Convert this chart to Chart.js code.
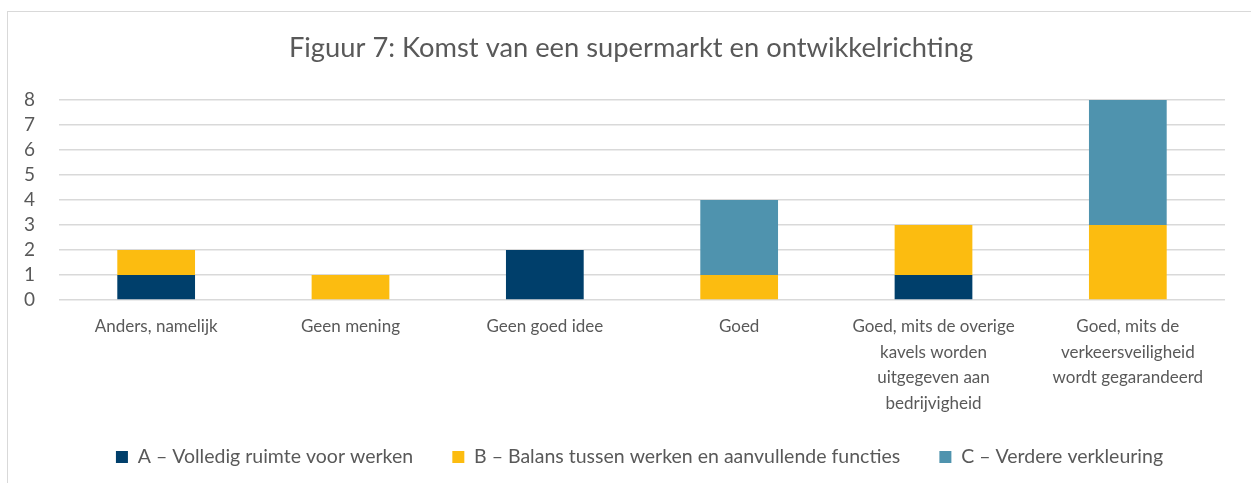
<!DOCTYPE html>
<html>
<head>
<meta charset="utf-8">
<script src="https://cdn.jsdelivr.net/npm/chart.js@4/dist/chart.umd.min.js"></script>
<style>
html,body{margin:0;padding:0;background:#fff;}
#wrap{position:relative;width:1251px;height:483px;overflow:hidden;}
#frame{position:absolute;left:7px;top:11px;width:1300px;height:600px;border:1.5px solid #D9D9D9;box-sizing:border-box;}
canvas{position:absolute;left:0;top:0;}
</style>
</head>
<body>
<div id="wrap"><div id="frame"></div><canvas id="c" width="1251" height="483"></canvas></div>
<script>
const categories = [
  "Anders, namelijk",
  "Geen mening",
  "Geen goed idee",
  "Goed",
  ["Goed, mits de overige", "kavels worden", "uitgegeven aan", "bedrijvigheid"],
  ["Goed, mits de", "verkeersveiligheid", "wordt gegarandeerd"]
];
const seriesA = [1, 0, 2, 0, 1, 0];
const seriesB = [1, 1, 0, 1, 2, 3];
const seriesC = [0, 0, 0, 3, 0, 5];
const seriesNames = [
  "A \u2013 Volledig ruimte voor werken",
  "B \u2013 Balans tussen werken en aanvullende functies",
  "C \u2013 Verdere verkleuring"
];
const yTicks = [0, 1, 2, 3, 4, 5, 6, 7, 8];
const title = "Figuur 7: Komst van een supermarkt en ontwikkelrichting";

const FONT = "Lato";
const TXT = "#595959";
const colors = ["#003F6B", "#FCBC10", "#4F93AE"];

const shiftBoxes = {
  id: "shiftBoxes",
  afterLayout(chart) {
    if (chart.titleBlock) { chart.titleBlock.left += 18.5; chart.titleBlock.right += 18.5; }
    if (chart.legend) { chart.legend.left += 27; chart.legend.right += 27; }
  }
};

new Chart(document.getElementById("c"), {
  type: "bar",
  data: {
    labels: categories,
    datasets: [
      {label: seriesNames[0], data: seriesA, backgroundColor: colors[0]},
      {label: seriesNames[1], data: seriesB, backgroundColor: colors[1]},
      {label: seriesNames[2], data: seriesC, backgroundColor: colors[2]}
    ]
  },
  plugins: [shiftBoxes],
  options: {
    responsive: false,
    animation: false,
    events: [],
    datasets: {bar: {barPercentage: 0.4, categoryPercentage: 1.0}},
    layout: {padding: {left: 0, right: 26, top: 0, bottom: 6.25}},
    plugins: {
      tooltip: {enabled: false},
      title: {
        display: true,
        text: title,
        color: TXT,
        font: {family: FONT, size: 27.3, weight: "normal", lineHeight: 1.2},
        padding: {top: 31.6, bottom: 35.6}
      },
      legend: {
        position: "bottom",
        labels: {
          color: TXT,
          font: {family: FONT, size: 19.5},
          boxWidth: 12,
          boxHeight: 12,
          padding: 10,
          generateLabels: (chart) => chart.data.datasets.map((ds, i) => ({
            text: ds.label + (i < chart.data.datasets.length - 1 ? "\u2003\u2002\u2009\u2009" : ""),
            fillStyle: ds.backgroundColor,
            strokeStyle: ds.backgroundColor,
            lineWidth: 0,
            fontColor: TXT,
            hidden: false,
            datasetIndex: i
          }))
        }
      }
    },
    scales: {
      x: {
        stacked: true,
        grid: {display: false, drawTicks: false},
        border: {display: false},
        ticks: {
          color: TXT,
          font: {family: FONT, size: 17, lineHeight: 1.5},
          padding: 14,
          maxRotation: 0,
          autoSkip: false
        },
        afterFit: (s) => { s.height = 137.25; }
      },
      y: {
        stacked: true,
        min: 0,
        max: 8,
        afterBuildTicks: (s) => { s.ticks = yTicks.map(v => ({value: v})); },
        grid: {color: "#D9D9D9", lineWidth: 1.5, drawTicks: false},
        border: {display: false},
        ticks: {
          color: TXT,
          font: {family: FONT, size: 19},
          padding: 24,
          autoSkip: false,
          stepSize: 1
        },
        afterFit: (s) => { s.width = 59; }
      }
    }
  }
});
</script>
</body>
</html>
